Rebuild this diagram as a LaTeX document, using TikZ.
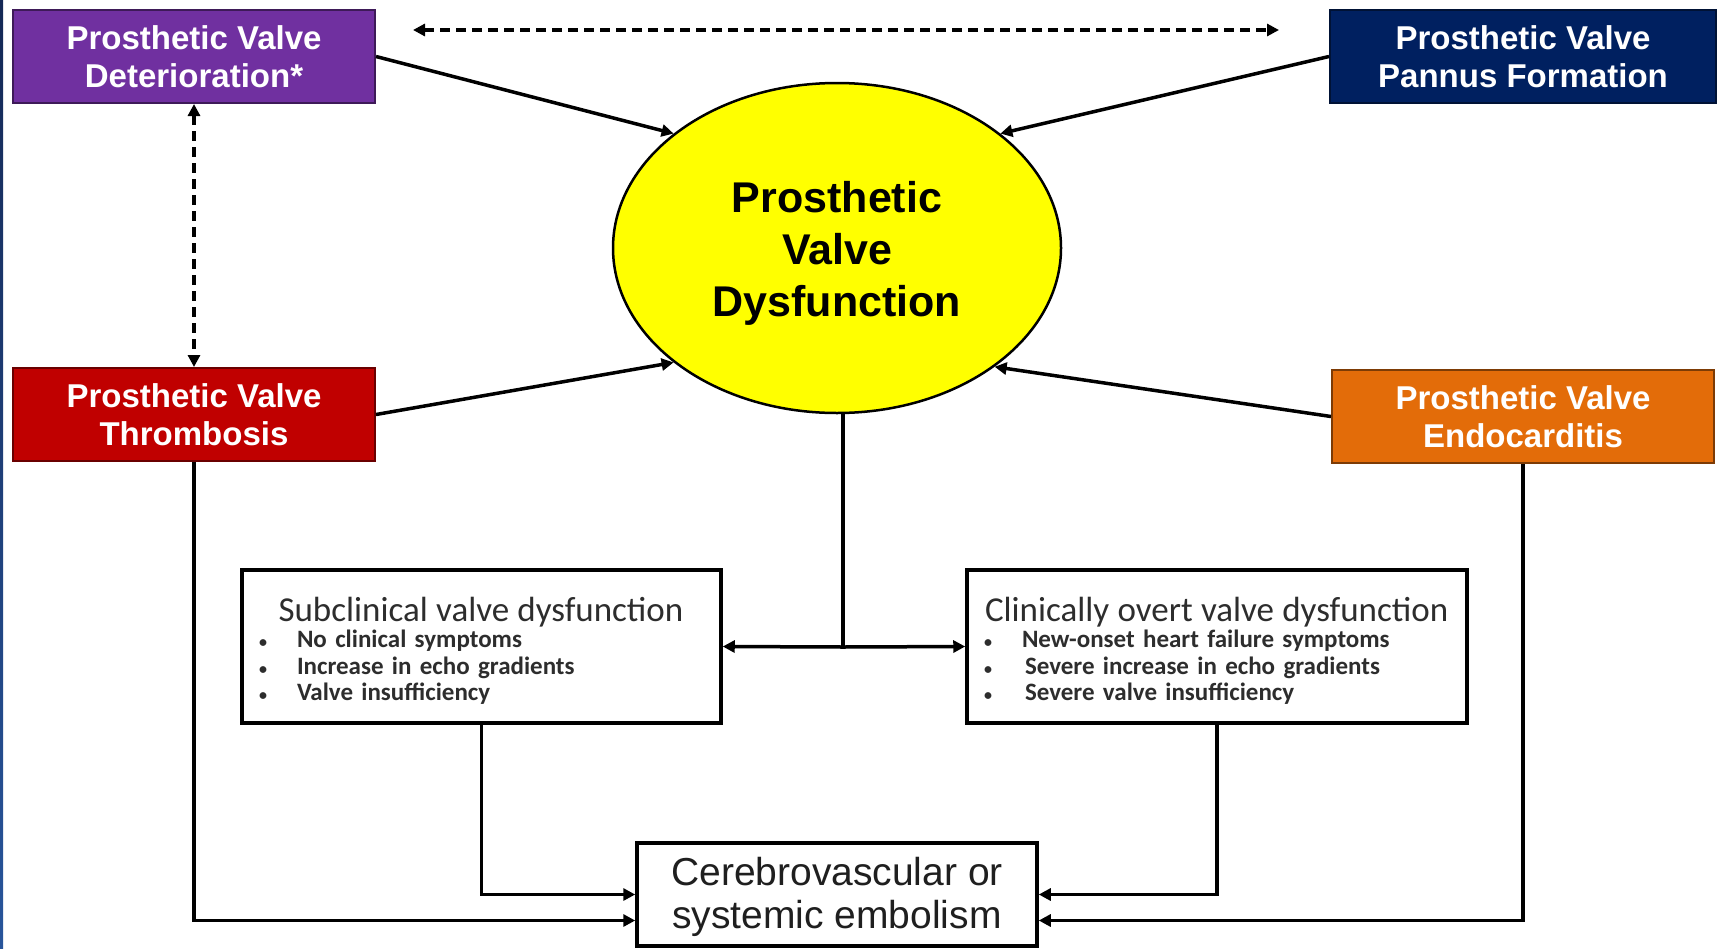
\documentclass[tikz,border=0pt]{standalone}
\usepackage{fontspec}
\setmainfont{Liberation Sans}
\newfontfamily\calfont{Carlito}
\usetikzlibrary{shapes.geometric,arrows.meta,positioning}
\definecolor{pvpurple}{RGB}{112,48,160}
\definecolor{pvnavy}{RGB}{0,32,96}
\definecolor{pvred}{RGB}{192,0,0}
\definecolor{pvorange}{RGB}{227,108,9}
\definecolor{pvyellow}{RGB}{255,255,0}
\definecolor{pvgray}{RGB}{45,45,45}
\definecolor{pvedge}{RGB}{20,40,85}
\definecolor{pvedgelow}{RGB}{40,85,155}
\newcommand{\pvitem}[2][38pt]{\makebox[#1][l]{\fontsize{16}{16}\selectfont\textbullet}#2}
\newcommand{\pvhead}[2][0pt]{\mbox{\rule{0pt}{33pt}\mdseries\fontsize{35}{26.5}\selectfont\hspace*{#1}#2}}

\begin{document}
\begin{tikzpicture}[x=1pt, y=-1pt,
  >={Triangle[length=12pt, width=12pt]},
  pvbox/.style={rectangle, draw=#1!55!black, line width=2pt, fill=#1, text=white,
              minimum height=93pt, inner sep=0pt, align=center,
              font=\fontsize{33}{38.5}\selectfont\bfseries},
  hub/.style={ellipse, draw=black, line width=2.5pt, fill=pvyellow, minimum width=448pt,
              minimum height=330pt, inner sep=0pt, align=center,
              font=\fontsize{43}{52}\selectfont\bfseries},
  fxbox/.style={rectangle, draw=black, line width=3.5pt, fill=white, minimum height=153pt,
              inner xsep=17pt, align=left, text=pvgray,
              font=\calfont\fontsize{25}{26.5}\selectfont\bfseries},
  embbox/.style={rectangle, draw=black, line width=3.5pt, fill=white, minimum width=400pt,
              minimum height=103pt, inner sep=0pt, align=center, text=black!88,
              font=\fontsize{39}{43}\selectfont},
  conn/.style={line width=3.5pt, black},
  dconn/.style={line width=3.5pt, black, dash pattern=on 10pt off 6pt}]
\useasboundingbox (0,0) rectangle (1726,948);
\shade[top color=pvedge, bottom color=pvedgelow] (0,0) rectangle (3,948);
\node[hub] (ell) at (837,248) {\rule{0pt}{42pt}Prosthetic\\ Valve\\ Dysfunction};
\node[pvbox=pvpurple, minimum width=362pt] (det) at (194,56.5) {Prosthetic Valve\\ Deterioration*};
\node[pvbox=pvnavy, minimum width=386pt] (pan) at (1523,56.5) {Prosthetic Valve\\ Pannus Formation};
\node[pvbox=pvred, minimum width=362pt, below=263pt of det] (thr) {Prosthetic Valve\\ Thrombosis};
\node[pvbox=pvorange, minimum width=382pt, below=265pt of pan] (endo) {Prosthetic Valve\\ Endocarditis};
\node[fxbox, text width=445pt] (sub) at (481.5,646.5)
  {\pvhead[19.5pt]{Subclinical valve dysfunction}\\
   \pvitem{No clinical symptoms}\\
   \pvitem{Increase in echo gradients}\\
   \pvitem{Valve insufficiency}};
\node[fxbox, text width=466pt] (clin) at (1217,646.5)
  {\pvhead[1pt]{Clinically overt valve dysfunction}\\
   \pvitem{New-onset heart failure symptoms}\\
   \pvitem[41pt]{Severe increase in echo gradients}\\
   \pvitem[41pt]{Severe valve insufficiency}};
\node[embbox, below=427pt of ell] (emb) {\rule{0pt}{33pt}Cerebrovascular or\\ systemic embolism};
\coordinate (split) at (843,647);
\coordinate (dl) at (413,30);
\coordinate (dr) at (1279,30);
\draw[dconn, <->] (dl) -- (dr);
\draw[dconn, <->] (det) -- (thr);
\draw[conn, ->] (det.east) -- (ell.145);
\draw[conn, ->] (pan.west) -- (ell.35);
\draw[conn, ->] (thr.east) -- (ell.215);
\draw[conn, ->] (endo.west) -- (ell.-37);
\draw[conn] (ell.south -| split) -- (split);
\draw[conn, ->] (split) -- (sub.east);
\draw[conn, ->] (split) -- (clin.west);
\draw[conn, ->] (sub.south) |- (emb.west);
\draw[conn, ->] (clin.south) |- (emb.east);
\draw[conn, ->] (thr.south) |- ([yshift=-26pt]emb.west);
\draw[conn, ->] (endo.south) |- ([yshift=-26pt]emb.east);
\end{tikzpicture}
\end{document}
